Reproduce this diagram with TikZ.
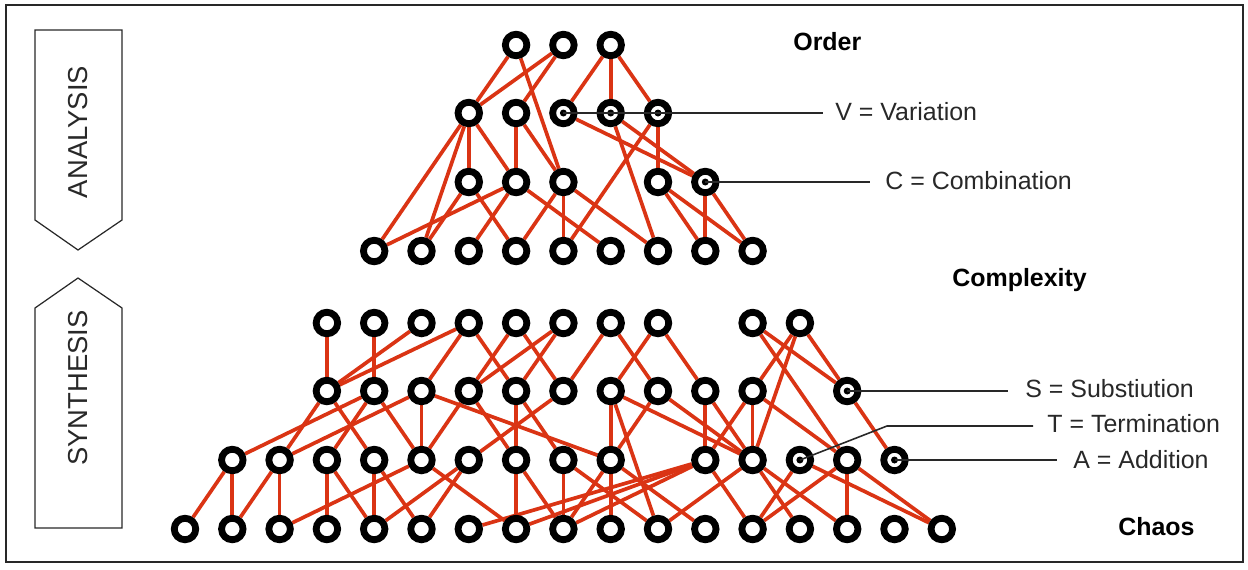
\documentclass[tikz,border=0pt]{standalone}
\usepackage{fontspec}
\setmainfont{Liberation Sans}
\usetikzlibrary{backgrounds}

\definecolor{linkred}{RGB}{218,52,20}
\definecolor{inkgray}{RGB}{40,40,40}

\tikzset{
  ring/.style={circle, draw, line width=3.9pt, fill=white, minimum size=4.3mm, inner sep=0pt},
  link/.style={linkred, line width=2.1pt},
  leader/.style={inkgray, line width=0.9pt},
  legend/.style={anchor=west, inner sep=0pt, text=inkgray, font=\fontsize{14.2}{16}\selectfont},
  heading/.style={anchor=west, inner sep=0pt, font=\fontsize{14.2}{16}\selectfont\bfseries},
  sidebox/.style={draw=inkgray, line width=0.7pt},
  sidetext/.style={rotate=90, text=inkgray, font=\fontsize{15.6}{17}\selectfont},
}

\begin{document}
\begin{tikzpicture}[x=0.2mm,y=-0.2mm]
\useasboundingbox (0,0) rectangle (1248,569);
\draw[inkgray, line width=1pt] (6,5) rectangle (1243,562);

% side arrows
\draw[sidebox] (35,30) -- (122,30) -- (122,220) -- (78,250) -- (35,220) -- cycle;
\draw[sidebox] (35,528) -- (122,528) -- (122,308) -- (78,278) -- (35,308) -- cycle;
\node[sidetext] (analysis) at (78,132) {ANALYSIS};
\node[sidetext] (synthesis) at (78,388) {SYNTHESIS};

% circles, one row at a time
\foreach \r/\y/\cols in {a0/45/{7,8,9}, a1/113/{6,7,8,9,10}, a2/182/{6,7,8,10,11},
    a3/251/{4,5,6,7,8,9,10,11,12}, s0/323/{3,4,5,6,7,8,9,10,12,13},
    s1/391/{3,4,5,6,7,8,9,10,11,12,14}, s2/460/{1,2,3,4,5,6,7,8,9,11,12,13,14,15},
    s3/529/{0,1,2,3,4,5,6,7,8,9,10,11,12,13,14,15,16}}
  \foreach \c in \cols
    \node[ring] (\r-\c) at (185+47.3*\c,\y) {};

\foreach \n in {a1-8,a1-9,a1-10,a2-11,s1-14,s2-13,s2-15}
  \fill (\n) circle (0.7mm);

\begin{scope}[on background layer]
% analysis
\foreach \u/\v in {a0-7/a1-6, a0-7/a2-8, a0-8/a1-6, a0-8/a1-7, a0-9/a1-8, a0-9/a1-9, a0-9/a1-10,
    a1-6/a2-6, a1-6/a2-7, a1-6/a3-4, a1-6/a3-5, a1-7/a2-7, a1-7/a2-8,
    a1-8/a2-11, a1-9/a2-11, a1-9/a3-10, a1-10/a2-10, a1-10/a3-8,
    a2-6/a3-5, a2-6/a3-7, a2-7/a3-4, a2-7/a3-6, a2-7/a3-9, a2-8/a3-7, a2-8/a3-8, a2-8/a3-10,
    a2-10/a3-11, a2-10/a3-12, a2-11/a3-11, a2-11/a3-12}
  \draw[link] (\u) -- (\v);
% synthesis
\foreach \u/\v in {s0-3/s1-3, s0-4/s1-4, s0-5/s1-3, s0-6/s1-3, s0-6/s1-5, s0-6/s1-7,
    s0-7/s1-6, s0-7/s1-8, s0-8/s1-6, s0-8/s1-7, s0-9/s1-8, s0-9/s1-10, s0-10/s1-9, s0-10/s1-11,
    s0-12/s1-14, s0-12/s2-14, s0-13/s1-12, s0-13/s2-12, s0-13/s1-14,
    s1-3/s2-2, s1-3/s2-4, s1-4/s2-1, s1-4/s2-3, s1-4/s2-5, s1-5/s2-2, s1-5/s2-5, s1-5/s2-9,
    s1-6/s2-5, s1-6/s2-7, s1-7/s2-7, s1-7/s2-8, s1-8/s2-6, s1-9/s2-9, s1-9/s2-12, s1-9/s3-10,
    s1-10/s2-9, s1-10/s2-12, s1-11/s2-11, s1-11/s2-12, s1-12/s2-11, s1-12/s2-12, s1-12/s2-14,
    s1-14/s2-15}
  \draw[link] (\u) -- (\v);
\foreach \u/\v in {s2-1/s3-0, s2-1/s3-1, s2-2/s3-1, s2-2/s3-2, s2-3/s3-3, s2-3/s3-4,
    s2-4/s3-4, s2-4/s3-5, s2-5/s3-2, s2-5/s3-7, s2-6/s3-4, s2-6/s3-5, s2-7/s3-7, s2-7/s3-8,
    s2-8/s3-8, s2-8/s3-10, s2-9/s3-8, s2-9/s3-9, s2-9/s3-11, s2-11/s3-6, s2-11/s3-7, s2-11/s3-8,
    s2-11/s3-12, s2-12/s3-10, s2-12/s3-13, s2-12/s3-14, s2-13/s3-12, s2-13/s3-16,
    s2-14/s3-12, s2-14/s3-14, s2-14/s3-16}
  \draw[link] (\u) -- (\v);
\end{scope}

% labels on the right
\node[heading] (order) at (793,42) {Order};
\node[legend] (vlab) at (835,112) {V = Variation};
\node[legend] (clab) at (885,181) {C = Combination};
\node[heading] (complexity) at (952,280) {Complexity};
\node[legend] (slab) at (1025,389) {S = Substiution};
\node[legend] (tlab) at (1047,424) {T = Termination};
\node[legend] (alab) at (1073,460) {A = Addition};
\node[heading] (chaos) at (1118,527) {Chaos};

\coordinate (tbend) at (887,426);
\draw[leader, shorten >=2.4mm] (a1-8.center) -- (a1-8.center -| vlab.west);
\draw[leader, shorten >=3mm] (a2-11.center) -- (a2-11.center -| clab.west);
\draw[leader, shorten >=3.4mm] (s1-14.center) -- (s1-14.center -| slab.west);
\draw[leader, shorten >=2.8mm] (s2-13.center) -- (tbend) -- (tbend -| tlab.west);
\draw[leader, shorten >=3.2mm] (s2-15.center) -- (s2-15.center -| alab.west);
\end{tikzpicture}
\end{document}
